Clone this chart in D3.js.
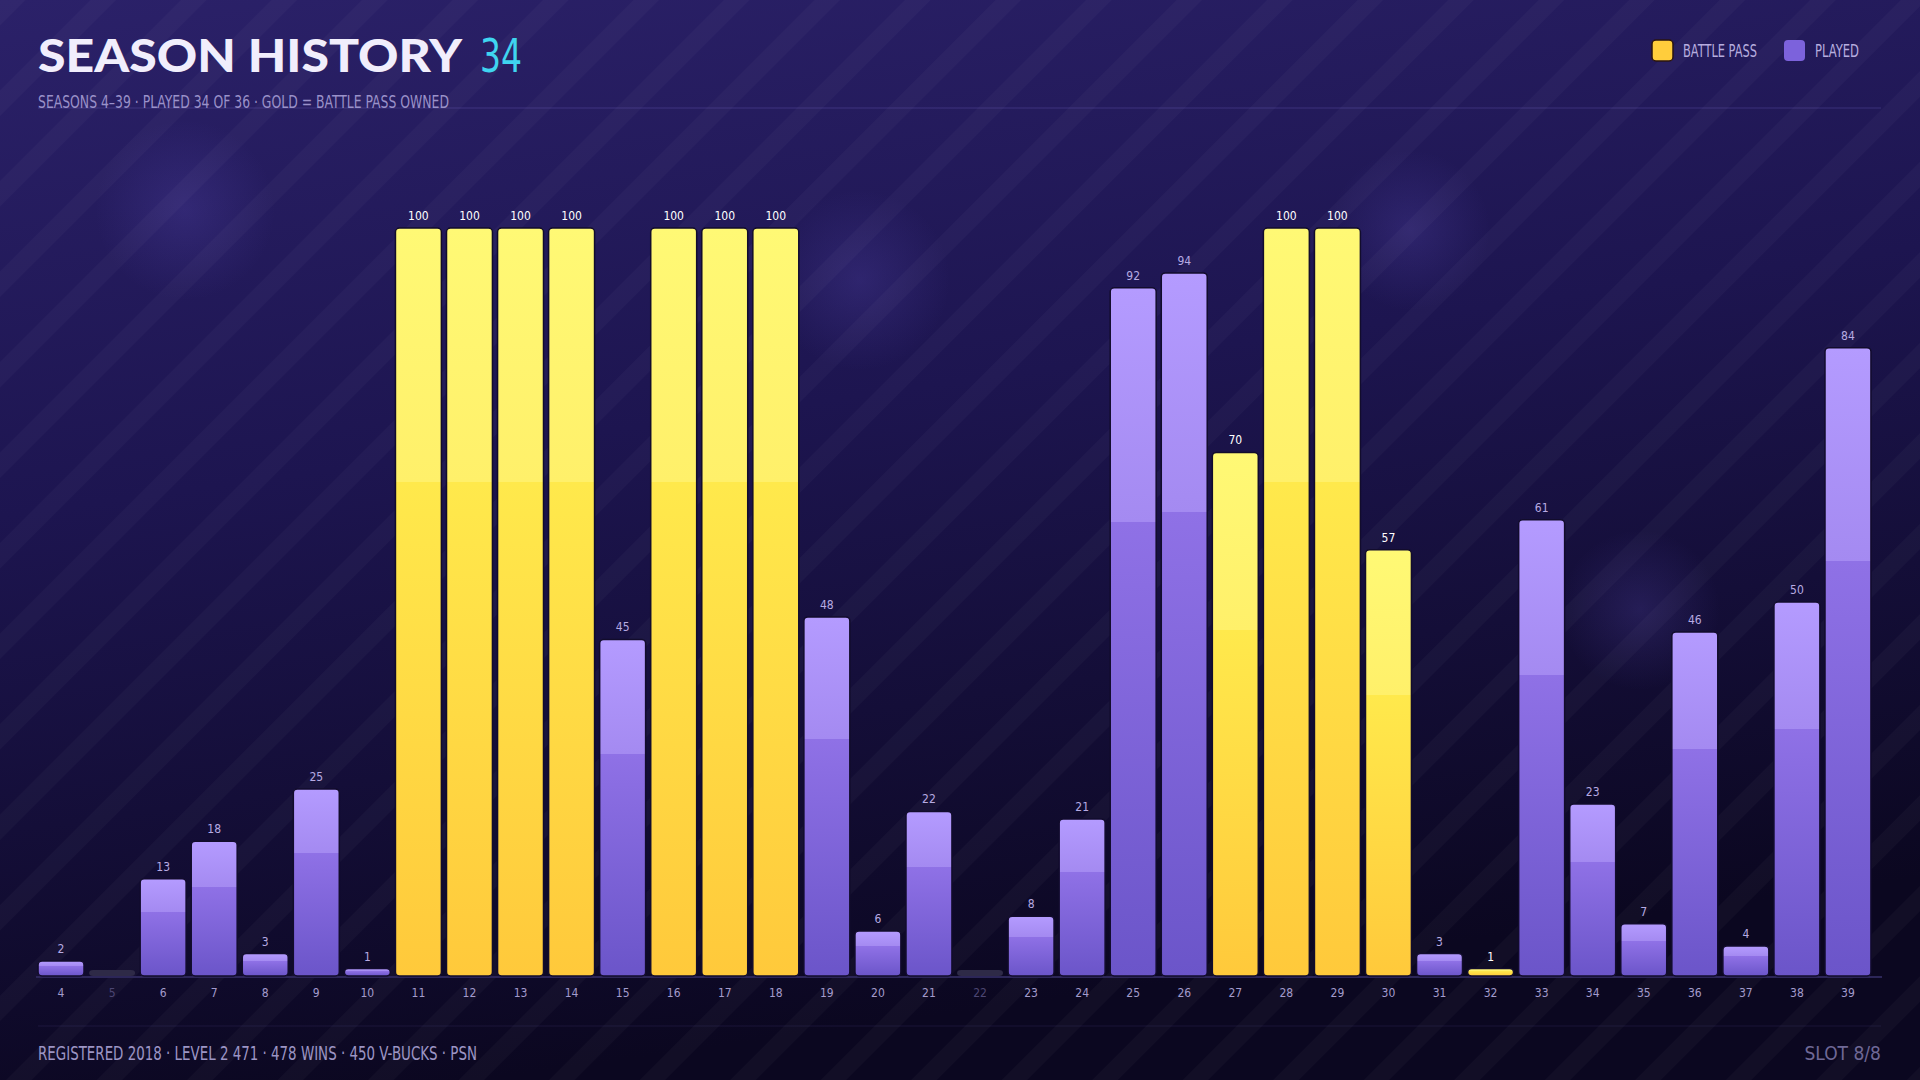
<!DOCTYPE html>
<html>
<head>
<meta charset="utf-8">
<script src="https://cdn.jsdelivr.net/npm/d3@7"></script>
<style>
  html, body { margin: 0; padding: 0; background: #120c32; }
  svg { display: block; }
</style>
</head>
<body>
<svg id="chart" width="1920" height="1080"></svg>
<script>
// season data
const seasons = [4,5,6,7,8,9,10,11,12,13,14,15,16,17,18,19,20,21,22,23,24,25,26,27,28,29,30,31,32,33,34,35,36,37,38,39];
const levels  = [2,0,13,18,3,25,1,100,100,100,100,45,100,100,100,48,6,22,0,8,21,92,94,70,100,100,57,3,1,61,23,7,46,4,50,84];
// 1 = battle pass owned (gold), 0 = just played
const battlePass = [0,0,0,0,0,0,0,1,1,1,1,0,1,1,1,0,0,0,0,0,0,0,0,1,1,1,1,0,1,0,0,0,0,0,0,0];
// 0 = season not played
const played = [1,0,1,1,1,1,1,1,1,1,1,1,1,1,1,1,1,1,0,1,1,1,1,1,1,1,1,1,1,1,1,1,1,1,1,1];
const legendItems = ['BATTLE PASS', 'PLAYED'];

const W = 1920, H = 1080;
const narrow = '"Liberation Sans Narrow", "DejaVu Sans Condensed", sans-serif';

const svg = d3.select('#chart');
const defs = svg.append('defs');

// background
const bg = defs.append('linearGradient').attr('id', 'bg').attr('x1', 0).attr('y1', 0).attr('x2', 0.25).attr('y2', 1);
bg.append('stop').attr('offset', 0).attr('stop-color', '#2b2169');
bg.append('stop').attr('offset', 0.45).attr('stop-color', '#1d1550');
bg.append('stop').attr('offset', 1).attr('stop-color', '#0b0720');
svg.append('rect').attr('width', W).attr('height', H).attr('fill', 'url(#bg)');

// soft glows
const glow = defs.append('radialGradient').attr('id', 'glow');
glow.append('stop').attr('offset', 0).attr('stop-color', '#6a5ad0').attr('stop-opacity', 0.2);
glow.append('stop').attr('offset', 1).attr('stop-color', '#6a5ad0').attr('stop-opacity', 0);
[[185, 210, 90], [1410, 230, 80], [860, 280, 90], [1640, 610, 80]].forEach(g => {
  svg.append('circle').attr('cx', g[0]).attr('cy', g[1]).attr('r', g[2]).attr('fill', 'url(#glow)');
});

// diagonal stripes, rising to the right
const pat = defs.append('pattern').attr('id', 'stripes')
  .attr('patternUnits', 'userSpaceOnUse').attr('width', 64).attr('height', 64)
  .attr('patternTransform', 'rotate(45)');
pat.append('rect').attr('width', 18).attr('height', 64).attr('fill', '#ffffff').attr('opacity', 0.028);
svg.append('rect').attr('width', W).attr('height', H).attr('fill', 'url(#stripes)');

// bar gradients, hard step at about a third from the top
function barGrad(id, stops) {
  const g = defs.append('linearGradient').attr('id', id).attr('x1', 0).attr('y1', 0).attr('x2', 0).attr('y2', 1);
  stops.forEach(s => g.append('stop').attr('offset', s[0]).attr('stop-color', s[1]));
}
barGrad('gold', [[0, '#fff975'], [0.34, '#fff06a'], [0.34, '#ffe94c'], [1, '#ffc93b']]);
barGrad('purple', [[0, '#b49bff'], [0.34, '#a48af1'], [0.34, '#8f71e6'], [1, '#6b55c9']]);

// title
svg.append('text').attr('x', 38).attr('y', 72)
  .attr('font-family', 'Lato, Inter, sans-serif').attr('font-weight', 900)
  .attr('font-size', 46).attr('fill', '#f1eefc')
  .attr('textLength', 424).attr('lengthAdjust', 'spacingAndGlyphs')
  .text('SEASON HISTORY');
svg.append('text').attr('x', 480).attr('y', 72)
  .attr('font-family', narrow).attr('font-size', 46).attr('fill', '#3fd5f0')
  .attr('textLength', 42).attr('lengthAdjust', 'spacingAndGlyphs')
  .text('34');

svg.append('line').attr('x1', 38).attr('x2', 1881).attr('y1', 108).attr('y2', 108)
  .attr('stroke', '#8a7de0').attr('stroke-opacity', 0.25);

svg.append('text').attr('x', 38).attr('y', 108)
  .attr('font-family', narrow).attr('font-size', 18).attr('fill', '#9a91c9')
  .attr('textLength', 411).attr('lengthAdjust', 'spacingAndGlyphs')
  .text('SEASONS 4–39  ·  PLAYED 34 OF 36  ·  GOLD = BATTLE PASS OWNED');

// legend
const legendX = [1652, 1784];
const legendFill = ['#ffcd3c', '#7c62dc'];
const legendW = [74, 44];
legendItems.forEach((t, i) => {
  svg.append('rect').attr('x', legendX[i]).attr('y', 40).attr('width', 21).attr('height', 21).attr('rx', 4)
    .attr('fill', legendFill[i]).attr('stroke', i === 0 ? '#2a1410' : 'none').attr('stroke-width', 1.5);
  svg.append('text').attr('x', legendX[i] + 31).attr('y', 57)
    .attr('font-family', narrow).attr('font-size', 18).attr('fill', '#b6addf')
    .attr('textLength', legendW[i]).attr('lengthAdjust', 'spacingAndGlyphs')
    .text(t);
});

// scales
const x = d3.scaleBand().domain(seasons).range([35.5, 1873.5]).paddingInner(0.1).paddingOuter(0.05);
const y = d3.scaleLinear().domain([0, 100]).range([976, 228]);

const data = seasons.map((s, i) => ({ s, v: levels[i], bp: battlePass[i], p: played[i] }));

// baseline
svg.append('line').attr('x1', 36).attr('x2', 1882).attr('y1', y(0) + 1).attr('y2', y(0) + 1)
  .attr('stroke', '#2c2658').attr('stroke-width', 2);

const bars = svg.append('g');
bars.selectAll('rect').data(data).join('rect')
  .attr('x', d => x(d.s))
  .attr('width', x.bandwidth())
  .attr('y', d => d.p ? y(d.v) : y(0) - 6)
  .attr('height', d => d.p ? y(0) - y(d.v) : 6)
  .attr('rx', 4)
  .attr('fill', d => !d.p ? '#2e2a47' : (d.bp ? 'url(#gold)' : 'url(#purple)'))
  .attr('stroke', d => d.p ? '#120c2c' : 'none')
  .attr('stroke-width', 1.5);

// value labels
svg.append('g').selectAll('text').data(data.filter(d => d.p)).join('text')
  .attr('x', d => x(d.s) + x.bandwidth() / 2)
  .attr('y', d => y(d.v) - 8)
  .attr('text-anchor', 'middle')
  .attr('font-family', narrow).attr('font-size', 12)
  .attr('fill', d => d.bp ? '#ffffff' : '#b7abe3')
  .text(d => d.v);

// x axis
const xAxis = svg.append('g').attr('transform', `translate(0,${y(0) + 2})`)
  .call(d3.axisBottom(x).tickSize(0).tickPadding(10));
xAxis.select('.domain').remove();
xAxis.selectAll('text')
  .attr('font-family', narrow).attr('font-size', 12)
  .attr('fill', (s, i) => played[i] ? '#a39bcc' : '#4c4673');

// footer
svg.append('line').attr('x1', 38).attr('x2', 1881).attr('y1', 1026).attr('y2', 1026)
  .attr('stroke', '#8a7de0').attr('stroke-opacity', 0.12);
svg.append('text').attr('x', 38).attr('y', 1060)
  .attr('font-family', narrow).attr('font-size', 19).attr('fill', '#9c95c4')
  .attr('textLength', 439).attr('lengthAdjust', 'spacingAndGlyphs')
  .text('REGISTERED 2018  ·  LEVEL 2 471  ·  478 WINS  ·  450 V-BUCKS  ·  PSN');
svg.append('text').attr('x', 1881).attr('y', 1060).attr('text-anchor', 'end')
  .attr('font-family', narrow).attr('font-size', 19).attr('fill', '#6f6896')
  .text('SLOT 8/8');
</script>
</body>
</html>
